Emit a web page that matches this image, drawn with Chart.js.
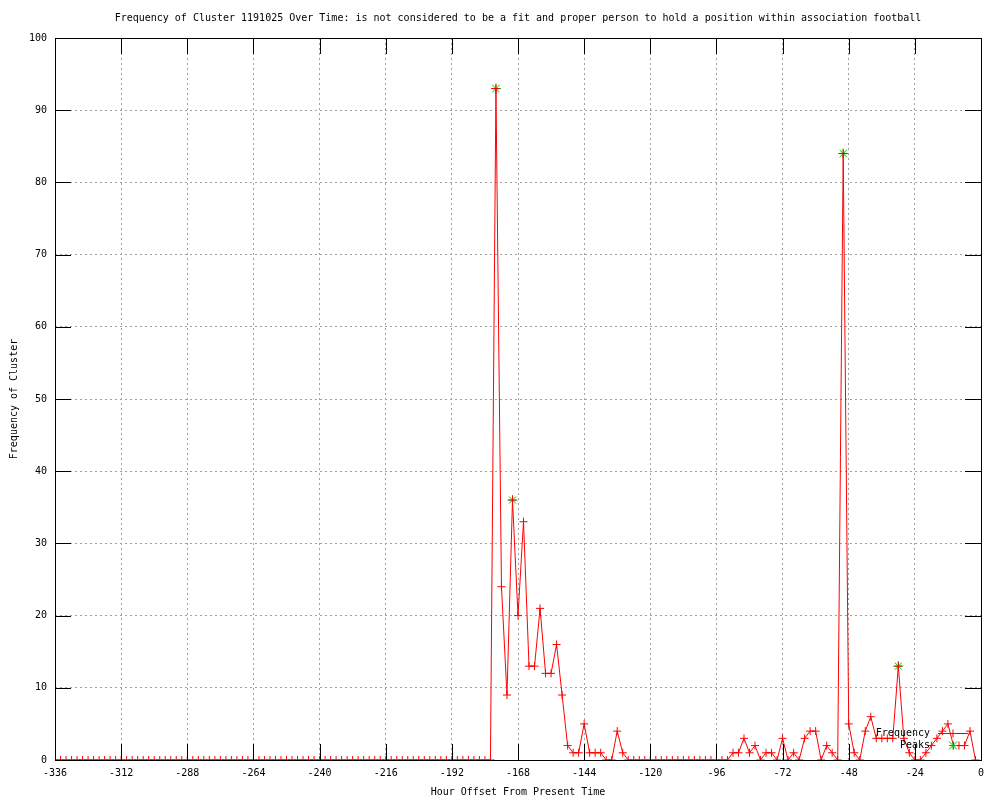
<!DOCTYPE html>
<html>
<head>
<meta charset="utf-8">
<title>Frequency of Cluster 1191025</title>
<script src="https://cdn.jsdelivr.net/npm/chart.js"></script>
<style>
  html, body { margin: 0; padding: 0; background: #fff; }
  canvas { display: block; }
</style>
</head>
<body>
<canvas id="myChart" width="1000" height="800"></canvas>
<script>
const chartTitle = "Frequency of Cluster 1191025 Over Time: is not considered to be a fit and proper person to hold a position within association football"
const xTitle = "Hour Offset From Present Time"
const yTitle = "Frequency of Cluster"

// hours (x) and cluster frequency (y), one point every 2 hours
const hours = [
  -336,-334,-332,-330,-328,-326,-324,-322,-320,-318,
  -316,-314,-312,-310,-308,-306,-304,-302,-300,-298,
  -296,-294,-292,-290,-288,-286,-284,-282,-280,-278,
  -276,-274,-272,-270,-268,-266,-264,-262,-260,-258,
  -256,-254,-252,-250,-248,-246,-244,-242,-240,-238,
  -236,-234,-232,-230,-228,-226,-224,-222,-220,-218,
  -216,-214,-212,-210,-208,-206,-204,-202,-200,-198,
  -196,-194,-192,-190,-188,-186,-184,-182,-180,-178,
  -176,-174,-172,-170,-168,-166,-164,-162,-160,-158,
  -156,-154,-152,-150,-148,-146,-144,-142,-140,-138,
  -136,-134,-132,-130,-128,-126,-124,-122,-120,-118,
  -116,-114,-112,-110,-108,-106,-104,-102,-100,-98,
  -96,-94,-92,-90,-88,-86,-84,-82,-80,-78,
  -76,-74,-72,-70,-68,-66,-64,-62,-60,-58,
  -56,-54,-52,-50,-48,-46,-44,-42,-40,-38,
  -36,-34,-32,-30,-28,-26,-24,-22,-20,-18,
  -16,-14,-12,-10,-8,-6,-4,-2
]
const frequency = [
  0,0,0,0,0,0,0,0,0,0,
  0,0,0,0,0,0,0,0,0,0,
  0,0,0,0,0,0,0,0,0,0,
  0,0,0,0,0,0,0,0,0,0,
  0,0,0,0,0,0,0,0,0,0,
  0,0,0,0,0,0,0,0,0,0,
  0,0,0,0,0,0,0,0,0,0,
  0,0,0,0,0,0,0,0,0,0,
  93,24,9,36,20,33,13,13,21,12,
  12,16,9,2,1,1,5,1,1,1,
  0,0,4,1,0,0,0,0,0,0,
  0,0,0,0,0,0,0,0,0,0,
  0,0,0,1,1,3,1,2,0,1,
  1,0,3,0,1,0,3,4,4,0,
  2,1,0,84,5,1,0,4,6,3,
  3,3,3,13,3,1,0,0,1,2,
  3,4,5,2,2,2,4,0
]
const peakHours = [-176, -170, -50, -30]
const peakValues = [93, 36, 84, 13]

const xTicks = { min: -336, max: 0, step: 24 }
const yTicks = { min: 0, max: 100, step: 10 }

const fontFamily = "'DejaVu Sans Mono', monospace"
const fontSize = 10
const red = "#ff0000"
const green = "#00c000"

Chart.defaults.font.family = fontFamily
Chart.defaults.font.size = fontSize
Chart.defaults.color = "#000"

// draws a gnuplot style "+" or "x"
function drawMark(ctx, x, y, r, color, rotated) {
  ctx.save()
  ctx.strokeStyle = color
  ctx.lineWidth = 1
  ctx.beginPath()
  if (rotated) {
    ctx.moveTo(x - r, y - r); ctx.lineTo(x + r, y + r)
    ctx.moveTo(x - r, y + r); ctx.lineTo(x + r, y - r)
  } else {
    ctx.moveTo(x - r, y); ctx.lineTo(x + r, y)
    ctx.moveTo(x, y - r); ctx.lineTo(x, y + r)
  }
  ctx.stroke()
  ctx.restore()
}

const titlePlugin = {
  id: "plotTitle",
  afterDraw(chart) {
    const { ctx, chartArea } = chart
    ctx.save()
    ctx.font = fontSize + "px " + fontFamily
    ctx.fillStyle = "#000"
    ctx.textAlign = "center"
    ctx.textBaseline = "middle"
    ctx.fillText(chartTitle, (chartArea.left + chartArea.right) / 2, 18)
    ctx.restore()
  }
}

// border + inward tics, drawn over the data like gnuplot
const framePlugin = {
  id: "plotFrame",
  afterDatasetsDraw(chart) {
    const { ctx, chartArea, scales } = chart
    const { left, right, top, bottom } = chartArea
    const tic = 16
    ctx.save()
    ctx.strokeStyle = "#000"
    ctx.lineWidth = 1
    ctx.beginPath()
    scales.x.ticks.forEach(t => {
      const px = Math.round(scales.x.getPixelForValue(t.value)) + 0.5
      ctx.moveTo(px, bottom); ctx.lineTo(px, bottom - tic)
      ctx.moveTo(px, top); ctx.lineTo(px, top + tic)
    })
    scales.y.ticks.forEach(t => {
      const py = Math.round(scales.y.getPixelForValue(t.value)) + 0.5
      ctx.moveTo(left, py); ctx.lineTo(left + tic, py)
      ctx.moveTo(right, py); ctx.lineTo(right - tic, py)
    })
    ctx.stroke()
    ctx.strokeRect(Math.round(left) + 0.5, Math.round(top) + 0.5, Math.round(right - left), Math.round(bottom - top))

    // key in the lower right corner
    const sets = chart.data.datasets
    ctx.font = fontSize + "px " + fontFamily
    ctx.fillStyle = "#000"
    ctx.textAlign = "right"
    ctx.textBaseline = "middle"
    const textX = right - 51
    const sampleMid = right - 28
    const row1 = bottom - 27
    const row2 = bottom - 15
    ctx.fillText(sets[0].label, textX, row1)
    ctx.strokeStyle = red
    ctx.beginPath()
    ctx.moveTo(right - 43, row1 + 0.5)
    ctx.lineTo(right - 13, row1 + 0.5)
    ctx.stroke()
    drawMark(ctx, sampleMid, row1 + 0.5, 4, red, false)
    ctx.fillText(sets[1].label, textX, row2)
    drawMark(ctx, sampleMid, row2 + 0.5, 4, green, true)
    drawMark(ctx, sampleMid, row2 + 0.5, 4, green, false)
    ctx.restore()
  }
}

const freqPoints = hours.map((h, i) => ({ x: h, y: frequency[i] }))
const peakPoints = peakHours.map((h, i) => ({ x: h, y: peakValues[i] }))

const config = {
  type: "line",
  data: {
    datasets: [
      {
        label: "Frequency",
        data: freqPoints,
        borderColor: red,
        backgroundColor: red,
        borderWidth: 1,
        tension: 0,
        pointStyle: "cross",
        pointRadius: 4,
        pointBorderWidth: 1,
        pointBorderColor: red,
        order: 0
      },
      {
        label: "Peaks",
        data: peakPoints,
        showLine: false,
        borderColor: green,
        backgroundColor: green,
        pointStyle: "star",
        pointRadius: 5,
        pointBorderWidth: 1,
        pointBorderColor: green,
        order: 1
      }
    ]
  },
  options: {
    responsive: false,
    animation: false,
    layout: { padding: { top: 38, right: 19, bottom: 0, left: 0 } },
    plugins: {
      legend: { display: false },
      title: { display: false },
      tooltip: { enabled: false }
    },
    scales: {
      x: {
        type: "linear",
        min: xTicks.min,
        max: xTicks.max,
        afterFit: s => { s.height = 40 },
        ticks: { stepSize: xTicks.step, maxRotation: 0, autoSkip: false, padding: 7, color: "#000" },
        grid: { color: "#a0a0a0", lineWidth: 1, drawTicks: false },
        border: { display: false, dash: [2, 3] },
        title: { display: true, text: xTitle, color: "#000", padding: { top: 0, bottom: 2 } }
      },
      y: {
        type: "linear",
        min: yTicks.min,
        max: yTicks.max,
        afterFit: s => { s.width = 55 },
        ticks: { stepSize: yTicks.step, padding: 8, color: "#000" },
        grid: { color: "#a0a0a0", lineWidth: 1, drawTicks: false },
        border: { display: false, dash: [2, 3] },
        title: { display: true, text: yTitle, color: "#000", padding: { top: 8, bottom: 0 } }
      }
    }
  },
  plugins: [titlePlugin, framePlugin]
}

new Chart(document.getElementById("myChart").getContext("2d"), config)
</script>
</body>
</html>
